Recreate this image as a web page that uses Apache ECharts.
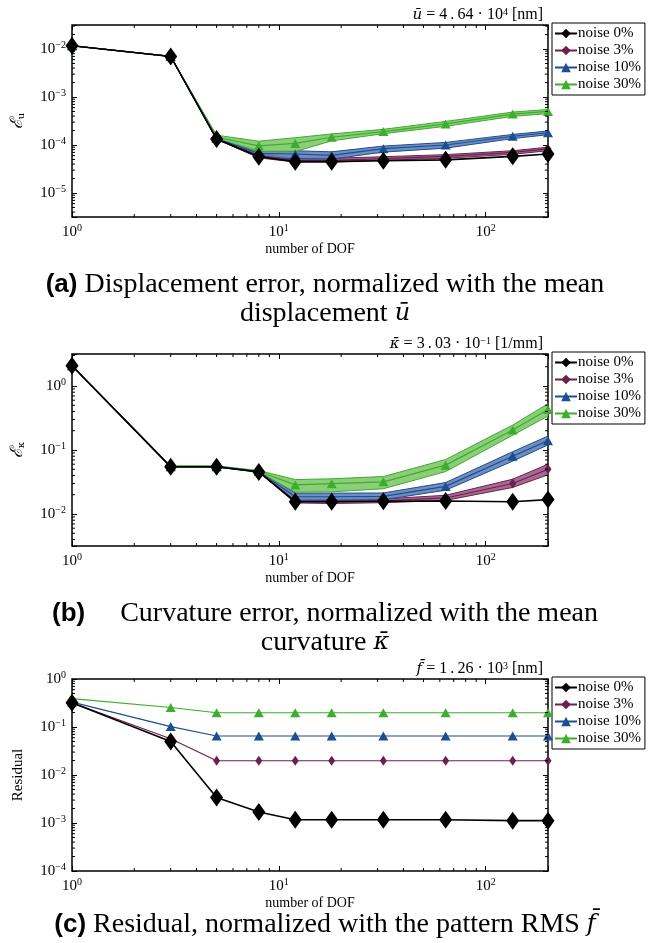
<!DOCTYPE html>
<html>
<head>
<meta charset="utf-8">
<script src="https://cdn.jsdelivr.net/npm/echarts@6/dist/echarts.min.js"></script>
<style>
  html, body { margin: 0; background: #fff; }
  #chart { width: 650px; height: 943px; }
</style>
</head>
<body>
<div id="chart"></div>
<script>
var dof = [1, 3, 5, 8, 12, 18, 32, 64, 135, 200];
var names = ['noise 0%', 'noise 3%', 'noise 10%', 'noise 30%'];
var colors = ['#000000', '#6d1f4f', '#1d4e91', '#3cad2c'];
var fills = ['#000000', '#9c5a84', '#5f82b8', '#7fc86c'];

// (a) displacement error
var dispErr0 = [1.17e-2, 7.0e-3, 1.33e-4, 5.7e-5, 4.5e-5, 4.5e-5, 4.7e-5, 4.9e-5, 5.8e-5, 6.5e-5];
var dispErr3 = [1.17e-2, 7.0e-3, 1.34e-4, 6.0e-5, 4.8e-5, 4.8e-5, 5.2e-5, 5.8e-5, 7.0e-5, 8.3e-5];
var dispLow3 = [1.17e-2, 7.0e-3, 1.32e-4, 5.4e-5, 4.4e-5, 4.4e-5, 4.8e-5, 5.3e-5, 6.4e-5, 7.6e-5];
var dispHigh3 = [1.17e-2, 7.0e-3, 1.36e-4, 6.6e-5, 5.3e-5, 5.3e-5, 5.7e-5, 6.3e-5, 7.6e-5, 9.0e-5];
var dispErr10 = [1.17e-2, 7.0e-3, 1.36e-4, 6.7e-5, 6.5e-5, 6.1e-5, 8.4e-5, 1.0e-4, 1.52e-4, 1.8e-4];
var dispLow10 = [1.17e-2, 7.0e-3, 1.32e-4, 5.5e-5, 5.2e-5, 5.1e-5, 7.1e-5, 8.6e-5, 1.36e-4, 1.64e-4];
var dispHigh10 = [1.17e-2, 7.0e-3, 1.40e-4, 7.8e-5, 7.6e-5, 7.2e-5, 9.5e-5, 1.13e-4, 1.66e-4, 1.96e-4];
var dispErr30 = [1.17e-2, 7.0e-3, 1.45e-4, 9.6e-5, 1.08e-4, 1.45e-4, 1.9e-4, 2.75e-4, 4.4e-4, 5.0e-4];
var dispLow30 = [1.17e-2, 7.0e-3, 1.34e-4, 7.3e-5, 7.3e-5, 1.22e-4, 1.72e-4, 2.45e-4, 3.95e-4, 4.5e-4];
var dispHigh30 = [1.17e-2, 7.0e-3, 1.6e-4, 1.2e-4, 1.42e-4, 1.7e-4, 2.12e-4, 3.1e-4, 4.85e-4, 5.5e-4];

// (b) curvature error
var curvErr0 = [2.07, 0.0546, 0.0546, 0.0455, 0.0155, 0.0155, 0.0158, 0.016, 0.0155, 0.0168];
var curvErr3 = [2.07, 0.0546, 0.0546, 0.0455, 0.0158, 0.0157, 0.0161, 0.0178, 0.030, 0.050];
var curvLow3 = [2.07, 0.0546, 0.0546, 0.0455, 0.0149, 0.0146, 0.015, 0.0163, 0.026, 0.041];
var curvHigh3 = [2.07, 0.0546, 0.0546, 0.0455, 0.0168, 0.0168, 0.0172, 0.0196, 0.035, 0.060];
var curvErr10 = [2.07, 0.0548, 0.0548, 0.046, 0.0186, 0.0186, 0.0189, 0.027, 0.080, 0.140];
var curvLow10 = [2.07, 0.0544, 0.0544, 0.0452, 0.0163, 0.0163, 0.0167, 0.0235, 0.067, 0.120];
var curvHigh10 = [2.07, 0.0552, 0.0552, 0.0468, 0.0212, 0.0212, 0.0213, 0.031, 0.094, 0.165];
var curvErr30 = [2.07, 0.0555, 0.0555, 0.0462, 0.0285, 0.0298, 0.0318, 0.058, 0.205, 0.43];
var curvLow30 = [2.07, 0.0545, 0.0545, 0.0448, 0.022, 0.0222, 0.0248, 0.046, 0.170, 0.34];
var curvHigh30 = [2.07, 0.0565, 0.0565, 0.0478, 0.0345, 0.0355, 0.0385, 0.071, 0.245, 0.53];

// (c) residual
var resid0 = [0.32, 0.050, 3.4e-3, 1.7e-3, 1.17e-3, 1.17e-3, 1.17e-3, 1.17e-3, 1.12e-3, 1.12e-3];
var resid3 = [0.32, 0.057, 0.0198, 0.0198, 0.0198, 0.0198, 0.0198, 0.0198, 0.0198, 0.0198];
var resid10 = [0.33, 0.102, 0.065, 0.065, 0.065, 0.065, 0.065, 0.065, 0.065, 0.065];
var resid30 = [0.39, 0.255, 0.198, 0.198, 0.198, 0.198, 0.198, 0.198, 0.198, 0.198];

var xRange = [1, 200];
var yRanges = [[Math.pow(10, -5.5), Math.pow(10, -1.5)], [Math.pow(10, -2.5), Math.pow(10, 0.5)], [1e-4, 1]];
var gridTops = [25, 354, 679];
var gridHeight = 192;

var serif = 'Liberation Serif';
var sans = 'Liberation Sans';

var supRich = {
  sup: { fontSize: 10, lineHeight: 10, verticalAlign: 'top', fontFamily: serif, color: '#000' }
};

var powLabel = function (v) {
  var e = Math.log10(v);
  var r = Math.round(e);
  if (Math.abs(e - r) > 1e-6) return '';
  return '10{sup|' + (r < 0 ? '\u2212' + (-r) : r) + '}';
};

var grids = [], xAxes = [], yAxes = [], series = [];

var addAxes = function (g, yName) {
  grids.push({ left: 72, width: 476, top: gridTops[g], height: gridHeight,
    show: true, borderColor: '#000', borderWidth: 1.5, backgroundColor: '#fff' });
  var common = {
    type: 'log', gridIndex: g, splitLine: { show: false },
    axisLine: { show: false },
    axisTick: { inside: true, length: 5, lineStyle: { color: '#000', width: 1 } }
  };
  xAxes.push(Object.assign({}, common, {
    position: 'bottom', min: xRange[0], max: xRange[1],
    axisLabel: { formatter: powLabel, margin: 6, color: '#000', fontFamily: serif, fontSize: 15,
      lineHeight: 18, rich: supRich },
    name: 'number of DOF', nameLocation: 'middle', nameGap: 20,
    nameTextStyle: { fontFamily: serif, fontSize: 14, color: '#000' }
  }));
  xAxes.push(Object.assign({}, common, {
    position: 'top', min: xRange[0], max: xRange[1], axisLabel: { show: false }
  }));
  yAxes.push(Object.assign({}, common, {
    position: 'left', min: yRanges[g][0], max: yRanges[g][1],
    axisLabel: { formatter: powLabel, margin: 6, color: '#000', fontFamily: serif, fontSize: 15,
      lineHeight: 18, rich: supRich },
    name: yName, nameLocation: 'middle', nameGap: 46, nameRotate: 90,
    nameTextStyle: { fontFamily: serif, fontSize: 15, color: '#000',
      rich: {
        e: { fontFamily: 'DejaVu Serif', fontSize: 17, fontStyle: 'italic' },
        sub: { fontSize: 10, lineHeight: 10, verticalAlign: 'bottom', fontFamily: 'DejaVu Serif' }
      } }
  }));
  yAxes.push(Object.assign({}, common, {
    position: 'right', min: yRanges[g][0], max: yRanges[g][1], axisLabel: { show: false }
  }));
};

// minor log ticks on all four sides, placed through the axis scales
var minorTicks = function (g) {
  var xs = [], ys = [];
  for (var d = 0; d < 3; d++) {
    for (var k = 2; k < 10; k++) {
      var v = k * Math.pow(10, d);
      if (v < xRange[1]) xs.push(v);
    }
  }
  var lo = Math.floor(Math.log10(yRanges[g][0])), hi = Math.ceil(Math.log10(yRanges[g][1]));
  for (var e = lo; e < hi; e++) {
    for (var k2 = 2; k2 < 10; k2++) {
      var w = k2 * Math.pow(10, e);
      if (w > yRanges[g][0] && w < yRanges[g][1]) ys.push(w);
    }
  }
  return {
    type: 'custom', name: 'minor', xAxisIndex: g * 2, yAxisIndex: g * 2, silent: true, z: 20,
    clip: false, data: [[xRange[0], yRanges[g][0]]],
    renderItem: function (params, api) {
      var p0 = api.coord([xRange[0], yRanges[g][0]]);
      var p1 = api.coord([xRange[1], yRanges[g][1]]);
      var st = { stroke: '#000', lineWidth: 1 };
      var kids = [];
      xs.forEach(function (x) {
        var px = api.coord([x, yRanges[g][0]])[0];
        kids.push({ type: 'line', shape: { x1: px, y1: p0[1], x2: px, y2: p0[1] - 3 }, style: st });
        kids.push({ type: 'line', shape: { x1: px, y1: p1[1], x2: px, y2: p1[1] + 3 }, style: st });
      });
      ys.forEach(function (y) {
        var py = api.coord([xRange[0], y])[1];
        kids.push({ type: 'line', shape: { x1: p0[0], y1: py, x2: p0[0] + 3, y2: py }, style: st });
        kids.push({ type: 'line', shape: { x1: p1[0], y1: py, x2: p1[0] - 3, y2: py }, style: st });
      });
      return { type: 'group', children: kids };
    }
  };
};

var band = function (g, idx, low, high) {
  return {
    type: 'custom', name: 'band', xAxisIndex: g * 2, yAxisIndex: g * 2, silent: true, z: 2,
    data: [[dof[0], low[0]]],
    renderItem: function (params, api) {
      var lowPts = dof.map(function (x, i) { return api.coord([x, low[i]]); });
      var highPts = dof.map(function (x, i) { return api.coord([x, high[i]]); });
      var poly = lowPts.concat(highPts.slice().reverse());
      return {
        type: 'group', children: [
          { type: 'polygon', shape: { points: poly }, style: { fill: fills[idx], opacity: 0.9 } },
          { type: 'polyline', shape: { points: lowPts }, style: { stroke: colors[idx], lineWidth: 1, fill: null } },
          { type: 'polyline', shape: { points: highPts }, style: { stroke: colors[idx], lineWidth: 1, fill: null } }
        ]
      };
    }
  };
};

var symbols = ['diamond', 'diamond', 'triangle', 'triangle'];
var symbolSizes = [[13, 18], [7, 10], [10, 9], [10, 9]];

var mean = function (g, idx, values) {
  return {
    type: 'line', name: names[idx], xAxisIndex: g * 2, yAxisIndex: g * 2,
    data: dof.map(function (x, i) { return [x, values[i]]; }),
    symbol: symbols[idx], symbolSize: symbolSizes[idx], showSymbol: true,
    lineStyle: { color: colors[idx], width: idx === 0 ? 1.6 : 1.2 },
    itemStyle: { color: colors[idx] },
    z: 10 - idx, animation: false
  };
};

addAxes(0, '{e|\u2130}{sub|u}');
addAxes(1, '{e|\u2130}{sub|\u03ba}');
addAxes(2, 'Residual');

series.push(band(0, 1, dispLow3, dispHigh3), band(0, 2, dispLow10, dispHigh10), band(0, 3, dispLow30, dispHigh30));
series.push(mean(0, 3, dispErr30), mean(0, 2, dispErr10), mean(0, 1, dispErr3), mean(0, 0, dispErr0));
series.push(band(1, 1, curvLow3, curvHigh3), band(1, 2, curvLow10, curvHigh10), band(1, 3, curvLow30, curvHigh30));
series.push(mean(1, 3, curvErr30), mean(1, 2, curvErr10), mean(1, 1, curvErr3), mean(1, 0, curvErr0));
series.push(mean(2, 3, resid30), mean(2, 2, resid10), mean(2, 1, resid3), mean(2, 0, resid0));
series.push(minorTicks(0), minorTicks(1), minorTicks(2));

var legends = gridTops.map(function (t) {
  return {
    data: names, orient: 'vertical', left: 552, top: t - 2, width: 96,
    padding: [3, 4, 3, 2], itemGap: 2, itemWidth: 22, itemHeight: 12,
    borderColor: '#000', borderWidth: 1, backgroundColor: '#fff',
    textStyle: { fontFamily: serif, fontSize: 15, color: '#000', padding: [0, 0, 0, -4] },
    selectedMode: false
  };
});

var annot = function (text, top) {
  return {
    text: text, right: 102, top: top,
    textStyle: { fontFamily: serif, fontSize: 16, fontWeight: 'normal', color: '#000',
      rich: { i: { fontStyle: 'italic', fontFamily: 'DejaVu Serif', fontSize: 15 },
        sup: { fontSize: 10, lineHeight: 10, verticalAlign: 'top', fontFamily: serif } } }
  };
};

var caption = function (lab, text, top) {
  return {
    text: (lab ? '{b|' + lab + '}' : '') + text, left: 'center', top: top,
    textStyle: { fontFamily: serif, fontSize: 28, fontWeight: 'normal', color: '#000',
      rich: { b: { fontFamily: sans, fontWeight: 'bold', fontSize: 26 },
        i: { fontFamily: 'DejaVu Serif', fontStyle: 'italic', fontSize: 24 } } }
  };
};

var titles = [
  annot('{i|\u016b} = 4\u2009.\u200964 \u00b7 10{sup|4} [nm]', 2),
  annot('{i|\u03ba\u0304} = 3\u2009.\u200903 \u00b7 10{sup|\u22121} [1/mm]', 331),
  annot('{i|f\u0304} = 1\u2009.\u200926 \u00b7 10{sup|3} [nm]', 656),
  caption('(a)', ' Displacement error, normalized with the mean', 266),
  caption('', 'displacement {i|\u016b}', 295),
  caption('(b)', '     Curvature error, normalized with the mean', 595),
  caption('', 'curvature {i|\u03ba\u0304}', 624),
  caption('(c)', ' Residual, normalized with the pattern RMS {i|f\u0304}', 906)
];

var myChart = echarts.init(document.getElementById('chart'));
myChart.setOption({
  animation: false,
  backgroundColor: '#fff',
  title: titles,
  legend: legends,
  grid: grids,
  xAxis: xAxes,
  yAxis: yAxes,
  series: series
});
</script>
</body>
</html>
